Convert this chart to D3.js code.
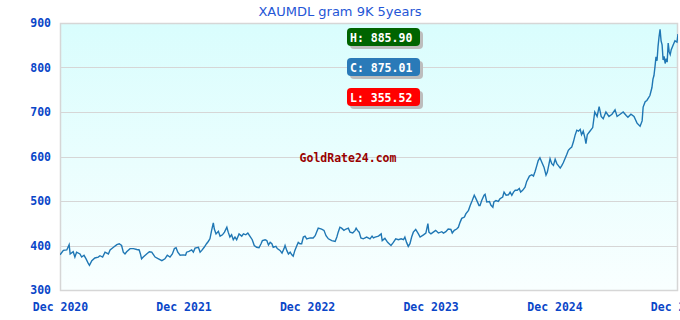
<!DOCTYPE html>
<html>
<head>
<meta charset="utf-8">
<script src="https://cdn.jsdelivr.net/npm/d3@7"></script>
<style>
html,body{margin:0;padding:0;background:#fff;}
svg{display:block;}
</style>
</head>
<body>
<svg id="chart" width="680" height="320"></svg>
<script>
const chartTitle = "XAUMDL gram 9K 5years";
const watermark = "GoldRate24.com";
const startDate = "2020-12-01";
const dayOffsets = [0,3,10,20,27,30,39,44,49,59,64,71,77,84,87,94,103,113,118,126,133,143,148,158,168,175,182,187,192,197,207,217,227,234,238,241,246,256,264,271,281,291,301,310,317,325,332,338,343,348,355,364,371,374,381,389,394,399,409,414,419,426,433,438,443,448,453,456,461,468,473,480,486,493,497,502,507,512,517,522,529,537,542,549,555,561,568,574,581,588,594,598,606,611,616,621,626,630,638,642,650,656,662,665,670,675,680,685,689,694,700,704,709,714,719,724,729,739,748,754,758,763,773,780,786,793,803,813,818,822,827,832,839,845,852,857,865,872,875,879,884,889,896,906,916,922,926,931,941,949,952,960,968,978,985,992,1000,1008,1015,1019,1024,1029,1034,1039,1044,1051,1059,1064,1074,1081,1087,1090,1096,1103,1110,1118,1128,1133,1140,1147,1155,1159,1165,1172,1177,1182,1187,1195,1199,1207,1212,1218,1224,1228,1234,1238,1241,1246,1253,1256,1261,1269,1273,1279,1282,1288,1295,1300,1308,1312,1318,1325,1330,1335,1340,1345,1351,1357,1361,1367,1374,1379,1387,1394,1399,1404,1409,1413,1418,1423,1430,1436,1440,1444,1448,1453,1458,1463,1468,1472,1478,1483,1487,1492,1497,1502,1507,1512,1517,1522,1527,1532,1537,1541,1546,1551,1554,1558,1564,1574,1580,1587,1593,1599,1605,1613,1622,1631,1640,1646,1655,1664,1673,1678,1687,1696,1705,1714,1720,1723,1729,1734,1743,1749,1752,1755,1758,1761,1764,1767,1770,1773,1776,1779,1782,1785,1788,1791,1794,1797,1800,1803,1806,1812,1817,1823,1826];
const prices = [379,382,389,390,402,381,386,374,385,381,374,378,370,359,355.52,366,372,374,377,374,385,381,390,396,402,404,400,385,381,386,393,393,391,390,380,370,374,381,386,385,374,370,366,370,378,374,381,393,395,385,378,379,378,385,387,390,385,394,396,385,389,396,404,409,415,434,451,437,426,432,421,424,430,441,430,419,424,413,419,413,426,421,426,424,428,421,413,400,396,395,404,411,413,411,401,407,404,396,398,393,389,383,393,400,389,381,385,379,376,389,400,407,404,404,419,421,415,417,417,422,430,439,437,434,422,415,411,409,419,430,441,439,434,437,439,430,428,434,439,434,430,417,415,419,415,421,417,419,421,426,411,416,407,400,407,415,413,415,413,419,407,398,404,419,430,436,426,419,424,428,449,430,426,430,434,428,431,428,431,437,436,428,434,437,441,452,461,464,471,479,490,501,513,507,497,490,490,501,513,515,498,499,491,486,498,501,499,505,509,520,513,514,520,513,520,524,524,528,520,524,531,544,556,559,556,567,580,591,597,588,576,558,565,580,595,584,580,594,584,580,574,580,586,595,604,614,618,621,633,648,659,657,661,649,657,642,629,649,655,665,700,690,712,690,685,700,690,695,705,690,695,700,692,688,695,690,675,668,680,711,723,726,737,755,774,782,802,824,815,847,869,885.90,860,851,817,825,809,820,812,855,835,829,840,851,860,857,875.01];
const yTicks = [300,400,500,600,700,800,900];
const xTickDates = ["2020-12-01","2021-12-01","2022-12-01","2023-12-01","2024-12-01","2025-12-01"];

const W = 680, H = 320;
const margin = {top: 23, right: 2, bottom: 30, left: 60};
const svg = d3.select("#chart");
const parse = d3.timeParse("%Y-%m-%d");
const start = parse(startDate);
const data = dayOffsets.map((d, i) => ({date: d3.timeDay.offset(start, d), value: prices[i]}));

const x = d3.scaleTime()
  .domain([parse(xTickDates[0]), parse(xTickDates[xTickDates.length - 1])])
  .range([margin.left, W - margin.right]);
const y = d3.scaleLinear().domain([300, 900]).range([H - margin.bottom, margin.top]);

const defs = svg.append("defs");
const grad = defs.append("linearGradient").attr("id", "bg").attr("x1", 0).attr("y1", 0).attr("x2", 0).attr("y2", 1);
grad.append("stop").attr("offset", "0%").attr("stop-color", "#d9fdfd");
grad.append("stop").attr("offset", "100%").attr("stop-color", "#f9ffff");
defs.append("clipPath").attr("id", "clip").append("rect")
  .attr("x", margin.left).attr("y", margin.top)
  .attr("width", W - margin.left - margin.right).attr("height", H - margin.top - margin.bottom);

svg.append("rect").attr("x", margin.left).attr("y", margin.top)
  .attr("width", W - margin.left - margin.right).attr("height", H - margin.top - margin.bottom)
  .attr("fill", "url(#bg)");

// grid
svg.append("g").selectAll("line").data(yTicks).join("line")
  .attr("x1", margin.left).attr("x2", W - margin.right)
  .attr("y1", d => Math.round(y(d)) + 0.5).attr("y2", d => Math.round(y(d)) + 0.5)
  .attr("stroke", "#d6d6d6").attr("stroke-width", 1);

// frame
svg.append("rect").attr("x", margin.left + 0.5).attr("y", margin.top + 0.5)
  .attr("width", W - margin.left - margin.right - 1).attr("height", H - margin.top - margin.bottom)
  .attr("fill", "none").attr("stroke", "#d6d6d6").attr("stroke-width", 1.5);

const monoFont = "'DejaVu Sans Mono', 'Liberation Mono', monospace";

// y axis labels
const yAxis = d3.axisLeft(y).tickValues(yTicks).tickSize(0).tickPadding(9).tickFormat(d3.format("d"));
const gy = svg.append("g").attr("transform", `translate(${margin.left},0)`).call(yAxis);
gy.select(".domain").remove();
gy.selectAll("text").attr("fill", "#0a46c8").attr("font-family", monoFont)
  .attr("font-size", "11.5px").attr("font-weight", "bold");

// x axis labels
const xAxis = d3.axisBottom(x).tickValues(xTickDates.map(parse)).tickSize(0).tickPadding(13)
  .tickFormat(d3.timeFormat("%b %Y"));
const gx = svg.append("g").attr("transform", `translate(0,${H - margin.bottom})`).call(xAxis);
gx.select(".domain").remove();
gx.selectAll("text").attr("fill", "#0a46c8").attr("font-family", monoFont)
  .attr("font-size", "11.5px").attr("font-weight", "bold");

// line
const line = d3.line().x(d => x(d.date)).y(d => y(d.value));
svg.append("path").datum(data).attr("clip-path", "url(#clip)")
  .attr("d", line).attr("fill", "none").attr("stroke", "#1f77b4").attr("stroke-width", 1.4);

// title
svg.append("text").attr("x", 340).attr("y", 16).attr("text-anchor", "middle")
  .attr("font-family", "'DejaVu Sans', Verdana, sans-serif").attr("font-size", "13px")
  .attr("fill", "#2456d6").text(chartTitle);

// watermark
svg.append("text").attr("x", 348).attr("y", 162).attr("text-anchor", "middle")
  .attr("font-family", monoFont).attr("font-size", "11.5px").attr("font-weight", "bold")
  .attr("fill", "#990000").text(watermark);

// legend badges
const fmt = d3.format(".2f");
const badges = [
  {label: "H: " + fmt(d3.max(prices)), color: "#006400", top: 28},
  {label: "C: " + fmt(prices[prices.length - 1]), color: "#2a7ab8", top: 58},
  {label: "L: " + fmt(d3.min(prices)), color: "#ff0000", top: 88}
];
const bg = svg.append("g").selectAll("g").data(badges).join("g")
  .attr("transform", d => `translate(347,${d.top})`);
bg.append("rect").attr("x", 3).attr("y", 3).attr("width", 73).attr("height", 18).attr("rx", 4)
  .attr("fill", "#bdbdbd");
bg.append("rect").attr("x", 0).attr("y", 0).attr("width", 73).attr("height", 18).attr("rx", 4)
  .attr("fill", d => d.color);
bg.append("text").attr("x", 3).attr("y", 13.5).attr("font-family", monoFont)
  .attr("font-size", "11.5px").attr("font-weight", "bold").attr("fill", "#fff")
  .text(d => d.label);
</script>
</body>
</html>
